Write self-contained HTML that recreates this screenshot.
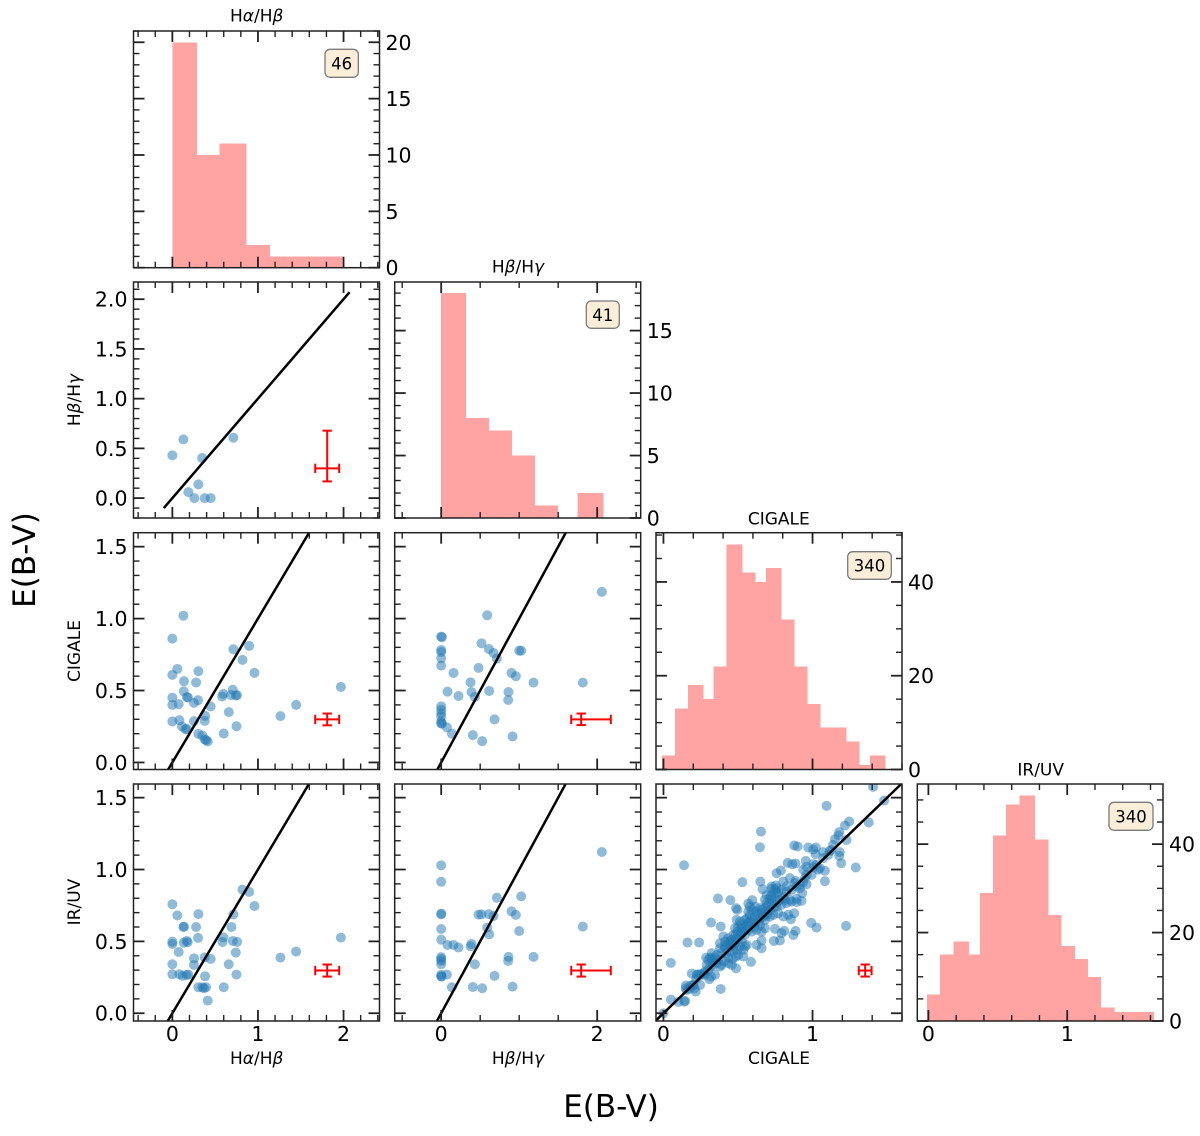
<!DOCTYPE html>
<html lang="en">
<head>
<meta charset="utf-8">
<title>E(B-V) corner plot</title>
<style>
html,body{margin:0;padding:0;background:#fff;}
svg{display:block;font-family:"DejaVu Sans","Liberation Sans",sans-serif;}
.ttl{font-size:17px;fill:#000;}
.big{font-size:31px;fill:#000;}
.gr{font-style:italic;}
</style>
</head>
<body>
<svg id="corner-chart" xmlns="http://www.w3.org/2000/svg" width="1200" height="1136" viewBox="0 0 1200 1136">
  <rect x="0" y="0" width="1200" height="1136" fill="#fff"/>
  <g id="panels"></g>
  <text class="ttl" x="256.7" y="21.7" text-anchor="middle">H<tspan class="gr">α</tspan>/H<tspan class="gr">β</tspan></text>
  <text class="ttl" x="518" y="272.7" text-anchor="middle">H<tspan class="gr">β</tspan>/H<tspan class="gr">γ</tspan></text>
  <text class="ttl" x="778.8" y="524.3" text-anchor="middle">CIGALE</text>
  <text class="ttl" x="1040.7" y="775.7" text-anchor="middle">IR/UV</text>
  <text class="ttl" x="256.7" y="1064" text-anchor="middle">H<tspan class="gr">α</tspan>/H<tspan class="gr">β</tspan></text>
  <text class="ttl" x="518" y="1064" text-anchor="middle">H<tspan class="gr">β</tspan>/H<tspan class="gr">γ</tspan></text>
  <text class="ttl" x="779" y="1064" text-anchor="middle">CIGALE</text>
  <text class="ttl" transform="translate(80,400) rotate(-90)" text-anchor="middle">H<tspan class="gr">β</tspan>/H<tspan class="gr">γ</tspan></text>
  <text class="ttl" transform="translate(80,651) rotate(-90)" text-anchor="middle">CIGALE</text>
  <text class="ttl" transform="translate(80,902) rotate(-90)" text-anchor="middle">IR/UV</text>
  <text class="big" x="611" y="1117" text-anchor="middle">E(B-V)</text>
  <text class="big" transform="translate(35,560) rotate(-90)" text-anchor="middle">E(B-V)</text>
</svg>
<script>
// ---------- histogram data ----------
const histHaHbEdges = [0,0.29,0.55,0.865,1.14,1.42,1.71,1.99];
const histHaHbCounts = [20,10,11,2,1,1,1];
const histHbHgEdges = [0,0.317,0.61,0.906,1.2,1.5,1.75,2.08];
const histHbHgCounts = [18,8,7,5,1,0,2];
const histCigaleEdges = [-0.009,0.078,0.163,0.268,0.337,0.424,0.529,0.618,0.6875,0.792,0.879,0.967,1.054,1.14,1.228,1.315,1.384,1.489];
const histCigaleCounts = [3,13,18,15,22,48,42,40,43,32,22,14,9,9,6,1,3];
const histIrUvEdges = [-0.01,0.084,0.18,0.293,0.37,0.466,0.56,0.656,0.769,0.865,0.959,1.055,1.149,1.243,1.339,1.435,1.529,1.625];
const histIrUvCounts = [6,15,18,15,29,42,49,51,41,24,17,14,10,3,2,2,2];
const sampleSizes = ["46","41","340","340"];

// ---------- scatter data [x,y] ----------
const haHbVsHbHg = [[0,0.43],[0.129,0.59],[0.347,0.403],[0.713,0.607],[0.304,0.138],[0.187,0.06],[0.257,0],[0.378,0],[0.448,0]];
const haHbVsCigale = [[0.129,1.02],[0,0.861],[0.058,0.65],[0,0.609],[0.304,0.634],[0.136,0.565],[0.277,0.556],[0.713,0.787],[0.897,0.81],[0.819,0.713],[0.959,0.623],[1.969,0.525],[1.446,0.4],[1.263,0.322],[0,0.451],[0,0.4],[0.074,0.405],[0.133,0.495],[0.168,0.454],[0.183,0.451],[0.253,0.414],[0.3,0.433],[0.448,0.389],[0.382,0.324],[0.378,0.289],[0.253,0.287],[0.082,0.294],[0,0.285],[0.113,0.25],[0.152,0.231],[0.168,0.234],[0.304,0.199],[0.351,0.1875],[0.378,0.16],[0.413,0.146],[0.395,0.155],[0.6,0.201],[0.749,0.252],[0.659,0.35],[0.581,0.458],[0.596,0.477],[0.686,0.468],[0.706,0.505],[0.741,0.465],[0.756,0.468]];
const haHbVsIrUv = [[0,0.758],[0.058,0.681],[0.304,0.69],[0.129,0.6],[0.136,0.603],[0.277,0.6],[0.69,0.6],[0.713,0.688],[0.819,0.86],[0.897,0.844],[0.959,0.746],[1.969,0.526],[1.446,0.429],[1.263,0.387],[0.3,0.524],[0.596,0.528],[0.585,0.496],[0.706,0.503],[0.756,0.496],[0,0.498],[0,0.482],[0.133,0.491],[0.168,0.503],[0.179,0.494],[0.074,0.426],[0.741,0.422],[0.253,0.382],[0.253,0.336],[0.378,0.389],[0.448,0.378],[0.659,0.341],[0,0.341],[0,0.271],[0.082,0.271],[0.121,0.26],[0.168,0.267],[0.187,0.269],[0.749,0.269],[0.382,0.257],[0.304,0.181],[0.351,0.181],[0.37,0.174],[0.394,0.181],[0.6,0.181],[0.413,0.088]];
const hbHgVsCigale = [[2.06,1.186],[0.59,1.023],[0,0.875],[0.009,0.87],[0.517,0.828],[0.611,0.789],[0.671,0.761],[0.714,0.722],[0,0.782],[0,0.768],[1,0.777],[1.026,0.777],[0,0.724],[0,0.673],[0.158,0.622],[0.479,0.657],[0.902,0.622],[0.957,0.599],[1.184,0.555],[1.816,0.555],[0.376,0.557],[0.081,0.492],[0.389,0.49],[0.615,0.497],[0.863,0.49],[0.222,0.462],[0.432,0.455],[0.859,0.434],[0,0.39],[0,0.367],[0,0.343],[0,0.32],[0,0.285],[0,0.271],[0.009,0.27],[0.073,0.244],[0.137,0.2],[0.406,0.19],[0.526,0.148],[0.915,0.181],[0.684,0.299]];
const hbHgVsIrUv = [[2.06,1.122],[0,1.029],[0,0.915],[0.714,0.804],[1.026,0.813],[0,0.693],[0,0.688],[0.479,0.686],[0.517,0.688],[0.611,0.69],[0.671,0.677],[0.902,0.709],[0.957,0.684],[1,0.572],[0,0.586],[0.59,0.596],[0.615,0.549],[1.816,0.603],[0,0.512],[0.081,0.475],[0.158,0.475],[0.222,0.457],[0.376,0.466],[0.389,0.482],[1.184,0.392],[0.863,0.392],[0.859,0.364],[0.432,0.341],[0,0.39],[0,0.378],[0,0.364],[0,0.341],[0.073,0.269],[0,0.267],[0,0.257],[0.005,0.255],[0.684,0.26],[0.137,0.181],[0.406,0.183],[0.526,0.174],[0.915,0.185]];
const cigaleVsIrUv = [[1.406,1.575],[1.48,1.48],[1.094,1.443],[1.377,1.327],[1.246,1.334],[1.217,1.306],[1.179,1.26],[1.174,1.237],[1.15,1.211],[1.228,1.206],[1.138,1.172],[0.654,1.264],[0.647,1.155],[0.138,1.03],[0.877,1.167],[0.9,1.16],[0.971,1.153],[1.022,1.153],[1.004,1.139],[1.02,1.107],[1.071,1.121],[1.116,1.13],[1.183,1.121],[1.179,1.095],[1.192,1.044],[1.29,1.014],[0.833,1.046],[0.864,1.037],[0.886,1.042],[0.955,1.06],[0.96,1.019],[1.004,1.014],[1.038,0.998],[1.083,0.991],[1.083,0.919],[0.938,0.998],[0.759,0.974],[0.788,0.993],[0.529,0.912],[0.65,0.916],[0.665,0.863],[0.848,0.94],[0.886,0.921],[0.96,0.898],[0.938,0.912],[0.804,0.916],[0.754,0.889],[0.725,0.865],[0.931,0.835],[0.366,0.798],[0.449,0.787],[0.569,0.763],[0.596,0.787],[0.487,0.731],[0.496,0.719],[0.319,0.631],[0.384,0.603],[0.161,0.492],[0.239,0.492],[0.049,0.35],[0.19,0.276],[0.384,0.169],[1.225,0.608],[0.991,0.629],[1.027,0.596],[0.871,0.545],[0.886,0.573],[0.81,0.573],[0.748,0.587],[0.792,0.557],[0.741,0.503],[0.781,0.506],[0.877,0.696],[0.855,0.654],[0.926,0.782],[0.893,0.796],[0.587,0.357],[0.487,0.313],[0.658,0.452],[0.625,0.476],[0.658,0.506],
[0,0],[0.05,0.095],[0.1,0.079],[0.14,0.081],[0.145,0.086],[0.15,0.193],[0.15,0.174],[0.156,0.162],[0.174,0.169],[0.208,0.174],[0.217,0.151],[0.246,0.197],[0.196,0.193],[0.223,0.267],[0.246,0.271],[0.279,0.267],[0.308,0.237],[0.346,0.267],[0.319,0.255],[0.29,0.336],[0.286,0.387],[0.324,0.418],[0.313,0.387],[0.346,0.387],[0.368,0.371],[0.39,0.336],[0.406,0.36],[0.435,0.387],[0.458,0.336],[0.487,0.394],[0.502,0.406],[0.536,0.394],[0.547,0.464],[0.536,0.441],[0.513,0.464],[0.469,0.441],[0.446,0.464],[0.413,0.452],[0.379,0.487],[0.413,0.499],[0.435,0.522],[0.458,0.51],[0.491,0.522],[0.469,0.545],[0.446,0.487],[0.39,0.418],[0.357,0.406],[0.42,0.418],[0.335,0.36],[0.379,0.325],[0.313,0.325],[0.279,0.29],[0.257,0.267],[0.435,0.348],[0.464,0.378],
[0.48,0.592],[0.502,0.603],[0.496,0.568],[0.525,0.592],[0.536,0.568],[0.558,0.615],[0.569,0.58],[0.547,0.545],[0.518,0.545],[0.487,0.55],[0.592,0.568],[0.625,0.58],[0.658,0.568],[0.681,0.592],[0.647,0.61],[0.614,0.626],[0.58,0.638],[0.547,0.65],[0.513,0.638],[0.491,0.65],[0.58,0.684],[0.614,0.673],[0.647,0.661],[0.681,0.65],[0.714,0.673],[0.737,0.684],[0.77,0.696],[0.692,0.684],[0.658,0.696],[0.625,0.708],[0.592,0.719],[0.569,0.708],[0.58,0.742],[0.614,0.742],[0.647,0.731],[0.681,0.731],[0.714,0.719],[0.692,0.766],[0.725,0.766],[0.759,0.742],[0.792,0.754],[0.826,0.766],[0.848,0.789],[0.815,0.789],[0.781,0.789],[0.748,0.796],[0.714,0.796],[0.681,0.789],[0.692,0.824],[0.725,0.824],[0.759,0.835],[0.792,0.858],[0.826,0.847],[0.859,0.858],[0.893,0.882],[0.748,0.858],[0.725,0.882],[0.759,0.87],[0.826,0.882],[0.915,0.893],[0.882,0.905],[0.804,0.8],[0.859,0.777],[0.893,0.773],[0.837,0.684],[0.804,0.673],
[0.379,0.452],[0.402,0.534],[0.429,0.476],[0.48,0.487],[0.558,0.476],[0.446,0.429],[0.496,0.441],[0.525,0.499],[0.324,0.383],[0.3,0.37],[0.23,0.27],[1.027,1.032],[1.049,1.009],[1.004,1.037],[1.071,1.079],[1.105,1.102],[1.127,1.137],[0.993,0.963],[0.949,0.94],[0.915,0.87],[0.96,0.963],[0.52,0.62],[0.56,0.66],[0.6,0.65],[0.63,0.69],[0.66,0.72],[0.7,0.7],[0.74,0.74],[0.76,0.77],[0.7,0.75],[0.72,0.81],[0.77,0.84],[0.41,0.47],[0.45,0.5],[0.47,0.47],[0.5,0.51],[0.53,0.56],[0.55,0.6],[0.57,0.63],[0.61,0.6],[0.64,0.64],[0.67,0.67],[0.18,0.19],[0.2,0.2],[0.22,0.24],[0.27,0.28],[0.3,0.3],[0.33,0.33],[0.36,0.35]];

// ---------- error bars: cx, cy, xLo, xHi, yLo, yHi ----------
const errHaHbHbHg = [1.809,0.299,1.669,1.949,0.168,0.678];
const errHaHbCigale = [1.809,0.299,1.669,1.949,0.258,0.34];
const errHaHbIrUv = [1.809,0.297,1.669,1.949,0.255,0.339];
const errHbHgCigale = [1.795,0.299,1.667,2.175,0.26,0.34];
const errHbHgIrUv = [1.795,0.297,1.667,2.175,0.255,0.339];
const errCigaleIrUv = [1.353,0.297,1.31,1.396,0.255,0.339];

// ---------- tick values ----------
const xMajorCol0 = [0,1,2];
const xMajorCol1 = [0,2];
const xMajorCol2 = [0,1];
const xMajorCol3 = [0,1];
const yMajorRow1 = [0,0.5,1,1.5,2];
const yMajorScatter = [0,0.5,1,1.5];
const yMajorHist0 = [0,5,10,15,20];
const yMajorHist1 = [0,5,10,15];
const yMajorHist2 = [0,20,40];
const yMajorHist3 = [0,20,40];

// ---------- layout ----------
const cols = [
  {l:133.5,r:379.5,dom:[-0.454,2.42],maj:xMajorCol0,minor:0.2},
  {l:394.7,r:640.7,dom:[-0.596,2.558],maj:xMajorCol1,minor:0.5},
  {l:656,r:902,dom:[-0.05,1.6],maj:xMajorCol2,minor:0.2},
  {l:917.3,r:1163,dom:[-0.08,1.69],maj:xMajorCol3,minor:0.2}
];
const rows = [
  {t:31,b:267.7},
  {t:282,b:518},
  {t:532.7,b:769.5},
  {t:784,b:1021}
];
const scatterDomRow = [null,[-0.2,2.173],[-0.049,1.597],[-0.054,1.595]];
const histYTop = [21,18.89,50.5,53.6];
const boxes = [
  {x:325,y:49.3,w:33.3,h:28},
  {x:586.3,y:301,w:33,h:27.3},
  {x:847.7,y:551.7,w:43.6,h:27.6},
  {x:1109,y:802.3,w:44,h:28}
];

const NS = 'http://www.w3.org/2000/svg';
const root = document.getElementById('panels');
function mk(tag, attrs, parent){
  const e = document.createElementNS(NS, tag);
  for (const k in attrs) e.setAttribute(k, attrs[k]);
  parent.appendChild(e);
  return e;
}
function linear(dom, rng){
  return v => rng[0] + (v - dom[0]) * (rng[1] - rng[0]) / (dom[1] - dom[0]);
}
function minorValues(dom, step, maj){
  const out = [];
  const n0 = Math.ceil(dom[0] / step - 1e-6), n1 = Math.floor(dom[1] / step + 1e-6);
  for (let n = n0; n <= n1; n++){
    const v = n * step;
    if (!maj.some(m => Math.abs(m - v) < 1e-6)) out.push(v);
  }
  return out;
}
const AX = '#222';
function drawTicks(g, c, r, sx, sy, xDom, yDom, yMaj, yMinorStep){
  const MAJ = 11, MIN = 6;
  const ticks = [];
  c.maj.forEach(v => { if (v>=xDom[0] && v<=xDom[1]) ticks.push(['x',v,MAJ]); });
  minorValues(xDom, c.minor, c.maj).forEach(v => ticks.push(['x',v,MIN]));
  yMaj.forEach(v => { if (v>=yDom[0] && v<=yDom[1]) ticks.push(['y',v,MAJ]); });
  minorValues(yDom, yMinorStep, yMaj).forEach(v => ticks.push(['y',v,MIN]));
  ticks.forEach(t => {
    const len = t[2];
    const w = len === MAJ ? 1.8 : 1.4;
    if (t[0] === 'x'){
      const x = sx(t[1]);
      const a = mk('line',{x1:x,x2:x,y1:r.b,y2:r.b-len,stroke:AX,'stroke-width':w},g);
      
      
      const b = mk('line',{x1:x,x2:x,y1:r.t,y2:r.t+len,stroke:AX,'stroke-width':w},g);
      
      
    } else {
      const y = sy(t[1]);
      const a = mk('line',{x1:c.l,x2:c.l+len,y1:y,y2:y,stroke:AX,'stroke-width':w},g);
      
      
      const b = mk('line',{x1:c.r,x2:c.r-len,y1:y,y2:y,stroke:AX,'stroke-width':w},g);
      
      
    }
  });
}
function drawFrame(g, c, r){
  const f = mk('rect',{x:c.l,y:r.t,width:c.r-c.l,height:r.b-r.t,fill:'none',stroke:AX,'stroke-width':1.5},g);
  
  
}
function label(g, x, y, txt, anchor){
  const t = mk('text',{x:x,y:y,'text-anchor':anchor,'font-size':'20.5px',fill:'#000'},g);
  t.textContent = txt;
  
  
}

function drawHist(i, edges, counts, yMaj, yMinorStep){
  const c = cols[i], r = rows[i];
  const g = mk('g',{},root);
  
  
  const yDom = [0,histYTop[i]];
  const sx = linear(c.dom,[c.l,c.r]);
  const sy = linear(yDom,[r.b,r.t]);
  counts.forEach((n,k) => {
    if (n <= 0) return;
    const bar = mk('rect',{x:sx(edges[k]),y:sy(n),width:sx(edges[k+1])-sx(edges[k]),height:sy(0)-sy(n),fill:'#ffa3a3','shape-rendering':'crispEdges'},g);
    
    
  });
  drawTicks(g,c,r,sx,sy,c.dom,yDom,yMaj,yMinorStep);
  drawFrame(g,c,r);
  yMaj.forEach(v => label(g,c.r+6,sy(v)+7.5,String(v),'start'));
  const b = boxes[i];
  const box = mk('rect',{x:b.x,y:b.y,width:b.w,height:b.h,rx:5,ry:5,fill:'#faeed9',stroke:'#7a7a7a','stroke-width':1.3},g);
  
  
  const tx = mk('text',{x:b.x+b.w/2,y:b.y+b.h/2+6.2,'text-anchor':'middle','font-size':'16.5px',fill:'#000'},g);
  tx.textContent = sampleSizes[i];
  
  
}

let clipId = 0;
function drawScatter(ri, ci, pts, err, yMaj){
  const c = cols[ci], r = rows[ri];
  const g = mk('g',{},root);
  
  
  const yDom = scatterDomRow[ri];
  const sx = linear(c.dom,[c.l,c.r]);
  const sy = linear(yDom,[r.b,r.t]);
  const id = 'clip' + (clipId++);
  const cp = mk('clipPath',{id:id},g);
  mk('rect',{x:c.l,y:r.t,width:c.r-c.l,height:r.b-r.t},cp);
  const inner = mk('g',{'clip-path':'url(#'+id+')'},g);
  pts.forEach(p => {
    const dot = mk('circle',{cx:sx(p[0]),cy:sy(p[1]),r:5,fill:'#1f77b4','fill-opacity':0.5},inner);
    
    
  });
  const lineLo = ri === 1 ? -0.1 : -0.06;
  const lineHi = ri === 1 ? 2.07 : 1.6;
  const ln = mk('line',{x1:sx(lineLo),y1:sy(lineLo),x2:sx(lineHi),y2:sy(lineHi),stroke:'#000','stroke-width':2.5},inner);
  
  
  const eg = mk('g',{stroke:'#ff0000','stroke-width':2,fill:'none'},inner);
  
  
  const cx = sx(err[0]), cy = sy(err[1]), x0 = sx(err[2]), x1 = sx(err[3]), y0 = sy(err[4]), y1 = sy(err[5]);
  const segs = [[x0,cy,x1,cy],[cx,y0,cx,y1],[x0,cy-4.7,x0,cy+4.7],[x1,cy-4.7,x1,cy+4.7],[cx-4.7,y0,cx+4.7,y0],[cx-4.7,y1,cx+4.7,y1]];
  segs.forEach(s => mk('line',{x1:s[0],y1:s[1],x2:s[2],y2:s[3]},eg));
  drawTicks(g,c,r,sx,sy,c.dom,yDom,yMaj,0.1);
  drawFrame(g,c,r);
  if (ci === 0) yMaj.forEach(v => label(g,c.l-6,sy(v)+7.5,v.toFixed(1),'end'));
  if (ri === 3) c.maj.forEach(v => label(g,sx(v),1041,String(v),'middle'));
}

drawScatter(1,0,haHbVsHbHg,errHaHbHbHg,yMajorRow1);
drawScatter(2,0,haHbVsCigale,errHaHbCigale,yMajorScatter);
drawScatter(3,0,haHbVsIrUv,errHaHbIrUv,yMajorScatter);
drawScatter(2,1,hbHgVsCigale,errHbHgCigale,yMajorScatter);
drawScatter(3,1,hbHgVsIrUv,errHbHgIrUv,yMajorScatter);
drawScatter(3,2,cigaleVsIrUv,errCigaleIrUv,yMajorScatter);

drawHist(0,histHaHbEdges,histHaHbCounts,yMajorHist0,1);
drawHist(1,histHbHgEdges,histHbHgCounts,yMajorHist1,1);
drawHist(2,histCigaleEdges,histCigaleCounts,yMajorHist2,5);
drawHist(3,histIrUvEdges,histIrUvCounts,yMajorHist3,5);

// x tick labels under the IR/UV histogram
(function(){
  const c = cols[3];
  const sx = linear(c.dom,[c.l,c.r]);
  c.maj.forEach(v => label(root,sx(v),1041,String(v),'middle'));
})();
</script>
</body>
</html>
